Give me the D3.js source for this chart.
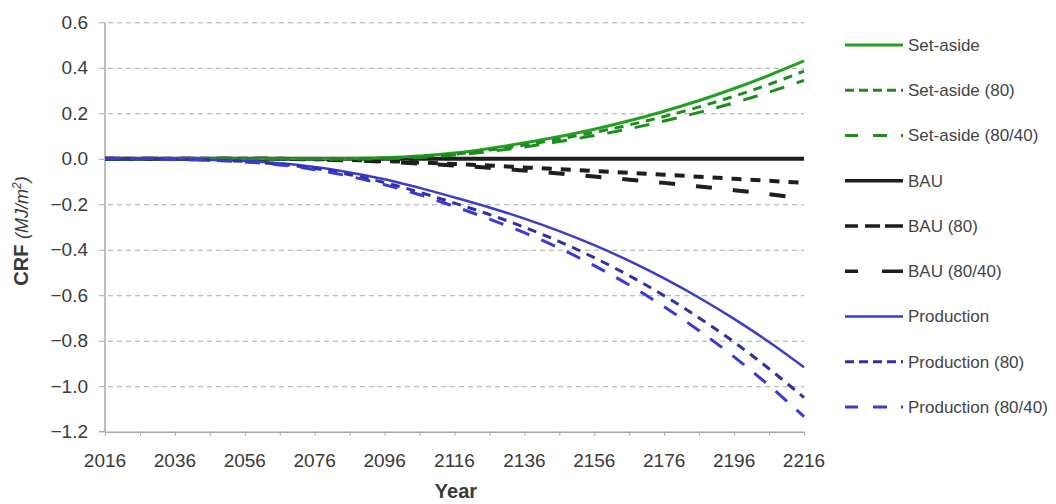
<!DOCTYPE html>
<html>
<head>
<meta charset="utf-8">
<script src="https://cdn.jsdelivr.net/npm/d3@7"></script>
<style>
  html, body { margin: 0; padding: 0; background: #fff; }
  svg { display: block; font-family: Arial, "Liberation Sans", sans-serif; }
</style>
</head>
<body>
<svg id="chart" width="1056" height="504"></svg>
<script>
// Cumulative radiative forcing (CRF, MJ/m²) by scenario, every 10 years
const years = [2016, 2026, 2036, 2046, 2056, 2066, 2076, 2086, 2096, 2106, 2116,
               2126, 2136, 2146, 2156, 2166, 2176, 2186, 2196, 2206, 2216];

const setAside     = [0, 0, 0, 0, 0, 0, 0, 0.001, 0.004, 0.012, 0.025, 0.045, 0.07, 0.098, 0.13, 0.167, 0.209, 0.256, 0.309, 0.367, 0.43];
const setAside80   = [0, 0, 0, 0, 0, 0, 0, 0, 0.003, 0.009, 0.02, 0.038, 0.06, 0.087, 0.116, 0.149, 0.186, 0.228, 0.275, 0.327, 0.385];
const setAside8040 = [0, 0, 0, 0, 0, 0, 0, -0.002, 0, 0.006, 0.016, 0.032, 0.052, 0.076, 0.102, 0.132, 0.166, 0.204, 0.246, 0.293, 0.345];

const bau     = [0, 0, 0, 0, 0, 0, 0, 0, 0, 0, 0, 0, 0, 0, 0, 0, 0, 0, 0, 0, 0];
const bau80   = [0, 0, 0, 0, 0, 0, -0.002, -0.005, -0.01, -0.016, -0.023, -0.03, -0.038, -0.046, -0.054, -0.062, -0.07, -0.079, -0.088, -0.097, -0.106];
const bau8040 = [0, 0, 0, 0, 0, 0, -0.003, -0.007, -0.013, -0.021, -0.03, -0.04, -0.052, -0.065, -0.078, -0.092, -0.106, -0.122, -0.138, -0.156, -0.175];

const production     = [0, 0, -0.002, -0.005, -0.01, -0.02, -0.036, -0.06, -0.09, -0.128, -0.17, -0.214, -0.263, -0.318, -0.38, -0.449, -0.526, -0.611, -0.704, -0.806, -0.917];
const production80   = [0, 0, -0.002, -0.006, -0.012, -0.024, -0.043, -0.07, -0.105, -0.147, -0.195, -0.245, -0.301, -0.364, -0.435, -0.514, -0.602, -0.7, -0.806, -0.923, -1.05];
const production8040 = [0, 0, -0.003, -0.007, -0.014, -0.027, -0.048, -0.077, -0.114, -0.158, -0.21, -0.265, -0.325, -0.393, -0.47, -0.555, -0.651, -0.756, -0.871, -0.997, -1.134];

const seriesNames = ["Set-aside", "Set-aside (80)", "Set-aside (80/40)",
                     "BAU", "BAU (80)", "BAU (80/40)",
                     "Production", "Production (80)", "Production (80/40)"];
const seriesValues = [setAside, setAside80, setAside8040,
                      bau, bau80, bau8040,
                      production, production80, production8040];

const yTicks = [0.6, 0.4, 0.2, 0.0, -0.2, -0.4, -0.6, -0.8, -1.0, -1.2];
const xLabelYears = [2016, 2036, 2056, 2076, 2096, 2116, 2136, 2156, 2176, 2196, 2216];

// Line styling per series
const styles = [
  { color: "#23a023", width: 3,   dash: null,    legendDash: null },
  { color: "#1c8c1c", width: 3,   dash: "9,7",   legendDash: "9,5" },
  { color: "#1c8c1c", width: 3,   dash: "15,13", legendDash: "13,15,14,14,2,20" },
  { color: "#1e1e1e", width: 4,   dash: null,    legendDash: null },
  { color: "#1e1e1e", width: 4,   dash: "10,9",  legendDash: "13,7,15,5,18" },
  { color: "#1e1e1e", width: 4,   dash: "16,21", legendDash: "13,24,21" },
  { color: "#3c3cc8", width: 2.5, dash: null,    legendDash: null },
  { color: "#30309e", width: 3,   dash: "9,7",   legendDash: "9,5" },
  { color: "#3a3ad6", width: 3,   dash: "15,13", legendDash: "13,15,14,14,2,20" }
];

const svg = d3.select("#chart");

const x = d3.scaleLinear().domain([2016, 2216]).range([105, 804]);
const y = d3.scaleLinear().domain([-1.2, 0.6]).range([431.7, 22.3]);

const gridColor = "#a8a8a8";
const textColor = "#3a3a3a";

// Horizontal dashed gridlines, each starting with a short outward tick
const yAxis = d3.axisLeft(y)
  .tickValues(yTicks.filter(v => v > -1.2))
  .tickSizeInner(-(x(2216) - x(2016)))
  .tickSizeOuter(0)
  .tickFormat("");
const gY = svg.append("g")
  .attr("transform", `translate(${x(2016)},0)`)
  .call(yAxis);
gY.select(".domain").remove();
gY.selectAll(".tick line")
  .attr("x1", -6)
  .attr("stroke", gridColor)
  .attr("stroke-width", 1)
  .attr("stroke-dasharray", "5,4");

// Y tick labels
svg.append("g").selectAll("text")
  .data(yTicks)
  .join("text")
  .attr("x", 88)
  .attr("y", d => y(d))
  .attr("dy", "0.35em")
  .attr("text-anchor", "end")
  .attr("font-size", 19)
  .attr("fill", textColor)
  .text(d => d3.format(".1f")(d));

// Vertical axis line
svg.append("line")
  .attr("x1", x(2016)).attr("x2", x(2016))
  .attr("y1", y(0.6)).attr("y2", y(-1.2))
  .attr("stroke", gridColor).attr("stroke-width", 1.5);

// Bottom axis line with ticks every 10 years
const xAxis = d3.axisBottom(x)
  .tickValues(years)
  .tickSizeInner(4)
  .tickSizeOuter(0)
  .tickFormat("");
const gX = svg.append("g")
  .attr("transform", `translate(0,${y(-1.2)})`)
  .call(xAxis);
gX.select(".domain").attr("stroke", gridColor).attr("stroke-width", 1.5);
gX.selectAll(".tick line").attr("stroke", gridColor).attr("stroke-width", 1);
svg.append("line")
  .attr("x1", x(2016) - 6).attr("x2", x(2016))
  .attr("y1", y(-1.2)).attr("y2", y(-1.2))
  .attr("stroke", gridColor).attr("stroke-width", 1.5);

// X tick labels
svg.append("g").selectAll("text")
  .data(xLabelYears)
  .join("text")
  .attr("x", d => x(d))
  .attr("y", 467)
  .attr("text-anchor", "middle")
  .attr("font-size", 19)
  .attr("fill", textColor)
  .text(d => d);

// Axis titles
svg.append("text")
  .attr("x", 456)
  .attr("y", 498)
  .attr("text-anchor", "middle")
  .attr("font-size", 20)
  .attr("font-weight", "bold")
  .attr("fill", textColor)
  .text("Year");

const yTitle = svg.append("text")
  .attr("transform", "translate(28,231) rotate(-90)")
  .attr("text-anchor", "middle")
  .attr("fill", textColor);
yTitle.append("tspan").attr("font-size", 20).attr("font-weight", "bold").text("CRF ");
yTitle.append("tspan").attr("font-size", 18).attr("font-style", "italic").text("(MJ/m");
yTitle.append("tspan").attr("font-size", 12).attr("font-style", "italic").attr("dy", -7).text("2");
yTitle.append("tspan").attr("font-size", 18).attr("font-style", "italic").attr("dy", 7).text(")");

// Series lines
const line = d3.line()
  .x((d, i) => x(years[i]))
  .y(d => y(d))
  .curve(d3.curveCatmullRom.alpha(0.5));

const drawOrder = [3, 4, 5, 0, 1, 2, 6, 7, 8];
svg.append("g").selectAll("path")
  .data(drawOrder)
  .join("path")
  .attr("d", k => line(seriesValues[k]))
  .attr("fill", "none")
  .attr("stroke", k => styles[k].color)
  .attr("stroke-width", k => styles[k].width)
  .attr("stroke-dasharray", k => styles[k].dash)
  .attr("stroke-linejoin", "round");

// Legend
const legendY = d3.scalePoint().domain(seriesNames).range([45, 407]);
const legend = svg.append("g").selectAll("g")
  .data(seriesNames)
  .join("g")
  .attr("transform", d => `translate(0,${legendY(d)})`);

legend.append("line")
  .attr("x1", 845).attr("x2", 903)
  .attr("y1", 0).attr("y2", 0)
  .attr("stroke", (d, i) => styles[i].color)
  .attr("stroke-width", (d, i) => Math.min(styles[i].width, 3.5))
  .attr("stroke-dasharray", (d, i) => styles[i].legendDash);

legend.append("text")
  .attr("x", 908)
  .attr("y", 0)
  .attr("dy", "0.35em")
  .attr("font-size", 17)
  .attr("fill", "#444")
  .text(d => d);
</script>
</body>
</html>
